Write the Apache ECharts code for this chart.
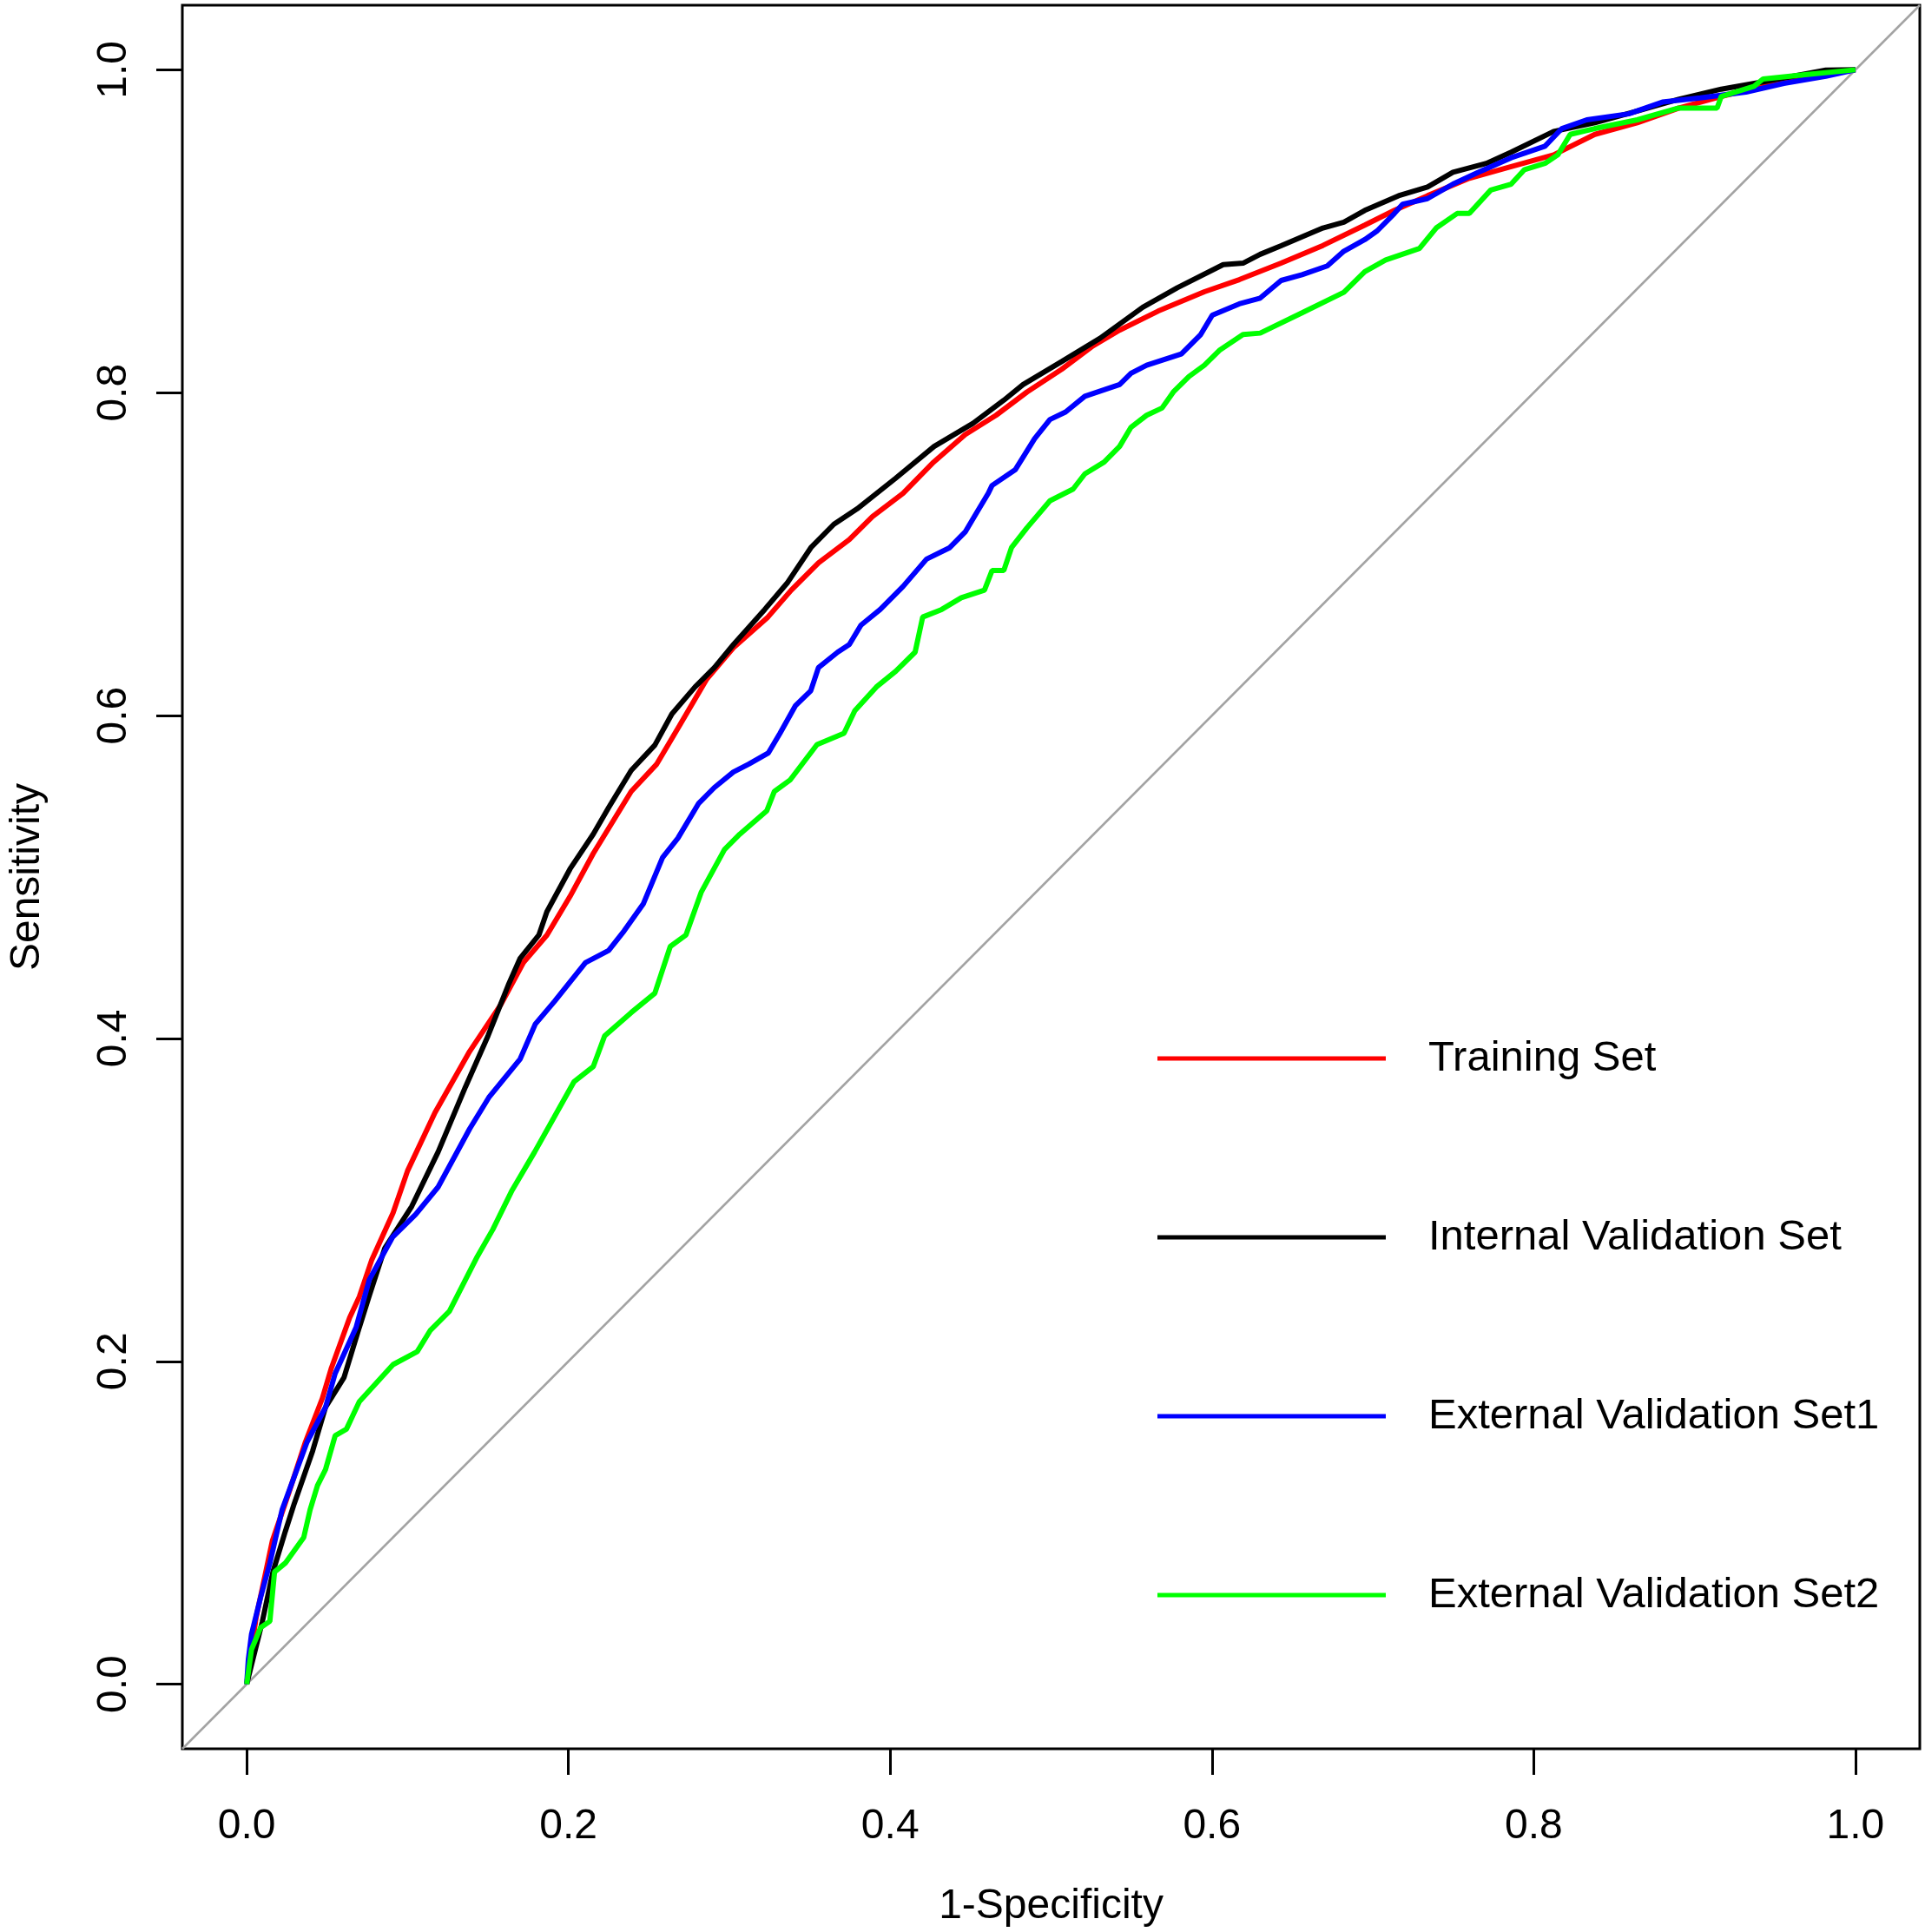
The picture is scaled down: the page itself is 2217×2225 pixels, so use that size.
<!DOCTYPE html>
<html>
<head>
<meta charset="utf-8">
<title>ROC curves</title>
<script src="https://cdn.jsdelivr.net/npm/echarts@6/dist/echarts.min.js"></script>
<style>
  html, body { margin: 0; padding: 0; background: #fff; }
  #chart { width: 2217px; height: 2225px; }
</style>
</head>
<body>
<div id="chart"></div>
<script>
// tick labels
var xTicks = [0, 0.2, 0.4, 0.6, 0.8, 1.0];
var yTicks = [0, 0.2, 0.4, 0.6, 0.8, 1.0];

var seriesNames = ['Training Set', 'Internal Validation Set', 'External Validation Set1', 'External Validation Set2'];

// [1-specificity, sensitivity]
var trainingSet = [
    [0, 0], [0.0058, 0.041], [0.016, 0.089], [0.026, 0.118], [0.0365, 0.150], [0.047, 0.177],
    [0.0527, 0.196], [0.064, 0.227], [0.070, 0.240], [0.0778, 0.263], [0.091, 0.292], [0.100, 0.318],
    [0.117, 0.354], [0.1386, 0.392], [0.158, 0.421], [0.172, 0.447], [0.1866, 0.464], [0.201, 0.488],
    [0.2154, 0.5145], [0.239, 0.553], [0.2547, 0.5697], [0.269, 0.5937], [0.286, 0.6226], [0.3025, 0.642],
    [0.324, 0.661], [0.3385, 0.6777], [0.3555, 0.6946], [0.3746, 0.709], [0.389, 0.7233], [0.408, 0.7377],
    [0.427, 0.757], [0.4466, 0.774], [0.4658, 0.786], [0.485, 0.8004], [0.5066, 0.8145], [0.526, 0.829],
    [0.5426, 0.8387], [0.5665, 0.8505], [0.5953, 0.8625], [0.617, 0.870], [0.643, 0.8803], [0.669, 0.8912],
    [0.695, 0.9038], [0.7134, 0.9129], [0.734, 0.922], [0.760, 0.9328], [0.786, 0.940], [0.8124, 0.9473],
    [0.838, 0.960], [0.8644, 0.9672], [0.8904, 0.9763], [0.9166, 0.9835], [0.9425, 0.9898], [0.9686, 0.996],
    [1, 1]
];

var internalSet = [
    [0, 0], [0.0097, 0.0387], [0.0163, 0.0695], [0.024, 0.0946], [0.0296, 0.112], [0.041, 0.1445],
    [0.049, 0.1715], [0.0605, 0.190], [0.070, 0.221], [0.076, 0.240], [0.0858, 0.270], [0.1026, 0.296],
    [0.119, 0.3297], [0.136, 0.370], [0.150, 0.4016], [0.1626, 0.433], [0.170, 0.4497], [0.1816, 0.464],
    [0.1866, 0.4785], [0.201, 0.505], [0.2154, 0.5265], [0.225, 0.543], [0.239, 0.566], [0.2537, 0.5817],
    [0.2643, 0.601], [0.2787, 0.6177], [0.2907, 0.6297], [0.3026, 0.644], [0.322, 0.6657], [0.3363, 0.6825],
    [0.3507, 0.704], [0.365, 0.7185], [0.3794, 0.728], [0.4034, 0.747], [0.4273, 0.7667], [0.4514, 0.781],
    [0.4706, 0.7953], [0.4826, 0.805], [0.5066, 0.8193], [0.5304, 0.8337], [0.557, 0.8529], [0.5785, 0.865],
    [0.607, 0.8793], [0.6196, 0.8803], [0.630, 0.8857], [0.643, 0.891], [0.669, 0.902], [0.682, 0.9056],
    [0.695, 0.9129], [0.716, 0.922], [0.734, 0.9274], [0.7498, 0.9365], [0.7706, 0.942], [0.786, 0.949],
    [0.8124, 0.9618], [0.838, 0.9672], [0.8644, 0.9745], [0.890, 0.9817], [0.9166, 0.988], [0.9425, 0.9925],
    [0.9816, 0.9998], [1, 1]
];

var externalSet1 = [
    [0, 0], [0.001, 0.015], [0.003, 0.031], [0.0087, 0.054], [0.0144, 0.075], [0.022, 0.108], [0.029, 0.127],
    [0.0375, 0.150], [0.049, 0.1715], [0.055, 0.1925], [0.068, 0.221], [0.0762, 0.2505], [0.0906, 0.2768],
    [0.105, 0.291], [0.119, 0.308], [0.1386, 0.344], [0.1505, 0.3634], [0.170, 0.3873], [0.1794, 0.4089],
    [0.1914, 0.423], [0.2106, 0.447], [0.225, 0.4545], [0.2346, 0.4666], [0.2465, 0.4833], [0.2585, 0.512],
    [0.268, 0.524], [0.281, 0.5457], [0.2907, 0.5554], [0.3025, 0.565], [0.3122, 0.570], [0.3243, 0.5769],
    [0.3315, 0.589], [0.341, 0.606], [0.3506, 0.6153], [0.3554, 0.6297], [0.3674, 0.6393], [0.3746, 0.644],
    [0.3818, 0.656], [0.3938, 0.6657], [0.408, 0.68], [0.4226, 0.6969], [0.437, 0.704], [0.4466, 0.7137],
    [0.4538, 0.7258], [0.461, 0.7377], [0.4633, 0.7425], [0.4777, 0.7522], [0.4898, 0.7715], [0.4993, 0.7834],
    [0.509, 0.788], [0.521, 0.7978], [0.5426, 0.805], [0.5497, 0.812], [0.5594, 0.817], [0.581, 0.824],
    [0.593, 0.836], [0.6002, 0.848], [0.617, 0.855], [0.630, 0.8586], [0.643, 0.8695], [0.656, 0.8731],
    [0.6717, 0.8785], [0.682, 0.8876], [0.695, 0.8948], [0.7028, 0.9003], [0.7134, 0.911], [0.7185, 0.9167],
    [0.734, 0.9202], [0.7498, 0.9292], [0.7655, 0.9365], [0.786, 0.9455], [0.807, 0.9527], [0.8175, 0.9636],
    [0.833, 0.969], [0.859, 0.9727], [0.880, 0.980], [0.9035, 0.9826], [0.932, 0.9862], [0.9555, 0.9916],
    [0.9816, 0.996], [1, 1]
];

var externalSet2 = [
    [0, 0], [0.003, 0.0215], [0.0086, 0.035], [0.0144, 0.039], [0.0173, 0.0695], [0.024, 0.075], [0.0355, 0.091],
    [0.0394, 0.108], [0.044, 0.123], [0.049, 0.133], [0.055, 0.154], [0.062, 0.158], [0.070, 0.175], [0.091, 0.198],
    [0.106, 0.206], [0.114, 0.219], [0.126, 0.231], [0.1434, 0.265], [0.153, 0.2817], [0.165, 0.306],
    [0.179, 0.3297], [0.191, 0.351], [0.2034, 0.3731], [0.2154, 0.3825], [0.2225, 0.4016], [0.239, 0.416],
    [0.2537, 0.428], [0.2633, 0.457], [0.273, 0.464], [0.2825, 0.4905], [0.297, 0.517], [0.3065, 0.5265],
    [0.3233, 0.541], [0.328, 0.553], [0.3377, 0.560], [0.3545, 0.582], [0.3713, 0.589], [0.378, 0.603],
    [0.3914, 0.6177], [0.4034, 0.6274], [0.4155, 0.6393], [0.4202, 0.661], [0.432, 0.6657], [0.4442, 0.673],
    [0.4586, 0.6777], [0.4633, 0.6898], [0.4706, 0.6898], [0.4754, 0.704], [0.485, 0.7163], [0.4993, 0.733],
    [0.5137, 0.7403], [0.521, 0.7497], [0.533, 0.757], [0.5426, 0.7667], [0.5497, 0.7786], [0.5594, 0.786],
    [0.569, 0.7905], [0.576, 0.8004], [0.5857, 0.810], [0.5953, 0.817], [0.605, 0.8265], [0.6193, 0.836],
    [0.630, 0.8369], [0.656, 0.8495], [0.682, 0.8622], [0.695, 0.875], [0.708, 0.8822], [0.729, 0.8893],
    [0.7394, 0.902], [0.7524, 0.911], [0.760, 0.911], [0.7733, 0.9255], [0.786, 0.9292], [0.7943, 0.9382],
    [0.807, 0.942], [0.815, 0.9473], [0.8227, 0.960], [0.838, 0.9636], [0.8644, 0.969], [0.890, 0.9763],
    [0.914, 0.9763], [0.9166, 0.9835], [0.937, 0.9898], [0.9425, 0.9943], [0.9686, 0.997], [1, 1]
];

// reference diagonal, spans the whole plot area
var diagonal = [[-0.04, -0.04], [1.04, 1.04]];

var fontName = 'Liberation Sans';

function rocLine(name, color, data) {
    return {
        name: name,
        type: 'line',
        data: data,
        symbol: 'none',
        smooth: false,
        lineStyle: { color: color, width: 6 },
        itemStyle: { color: color },
        z: 3
    };
}

var chart = echarts.init(document.getElementById('chart'));

var option = {
    animation: false,
    backgroundColor: '#fff',
    textStyle: { fontFamily: fontName, color: '#000' },
    grid: {
        left: 202, right: 6, top: 6, bottom: 211,
        show: true,
        borderColor: '#000',
        borderWidth: 3,
        backgroundColor: 'transparent'
    },
    legend: {
        data: seriesNames,
        orient: 'vertical',
        left: 1328,
        top: 1189,
        icon: 'rect',
        itemWidth: 263,
        itemHeight: 5,
        itemGap: 156,
        textStyle: {
            fontFamily: fontName,
            fontSize: 49,
            lineHeight: 50,
            color: '#000',
            padding: [0, 0, 0, 44]
        },
        selectedMode: false
    },
    xAxis: {
        type: 'value',
        min: -0.04,
        max: 1.04,
        name: '1-Specificity',
        nameLocation: 'middle',
        nameGap: 158,
        nameTextStyle: { fontFamily: fontName, fontSize: 48, color: '#000' },
        axisLine: { show: false, onZero: false },
        splitLine: { show: false },
        axisTick: {
            show: true,
            length: 30,
            customValues: xTicks,
            lineStyle: { color: '#000', width: 3 }
        },
        axisLabel: {
            customValues: xTicks,
            margin: 66,
            fontFamily: fontName,
            fontSize: 48,
            color: '#000',
            formatter: function (v) { return v.toFixed(1); }
        }
    },
    yAxis: {
        type: 'value',
        min: -0.04,
        max: 1.04,
        name: 'Sensitivity',
        nameLocation: 'middle',
        nameGap: 154,
        nameTextStyle: { fontFamily: fontName, fontSize: 48, color: '#000' },
        axisLine: { show: false, onZero: false },
        splitLine: { show: false },
        axisTick: {
            show: true,
            length: 30,
            customValues: yTicks,
            lineStyle: { color: '#000', width: 3 }
        },
        axisLabel: {
            customValues: yTicks,
            rotate: 90,
            margin: 54,
            fontFamily: fontName,
            fontSize: 48,
            color: '#000',
            formatter: function (v) { return v.toFixed(1); }
        }
    },
    series: [
        {
            name: 'diagonal',
            type: 'line',
            data: diagonal,
            symbol: 'none',
            lineStyle: { color: '#a3a3a3', width: 2.5 },
            z: 2
        },
        rocLine(seriesNames[0], '#ff0000', trainingSet),
        rocLine(seriesNames[1], '#000000', internalSet),
        rocLine(seriesNames[2], '#0000ff', externalSet1),
        rocLine(seriesNames[3], '#00ff00', externalSet2)
    ]
};

chart.setOption(option);
</script>
</body>
</html>
